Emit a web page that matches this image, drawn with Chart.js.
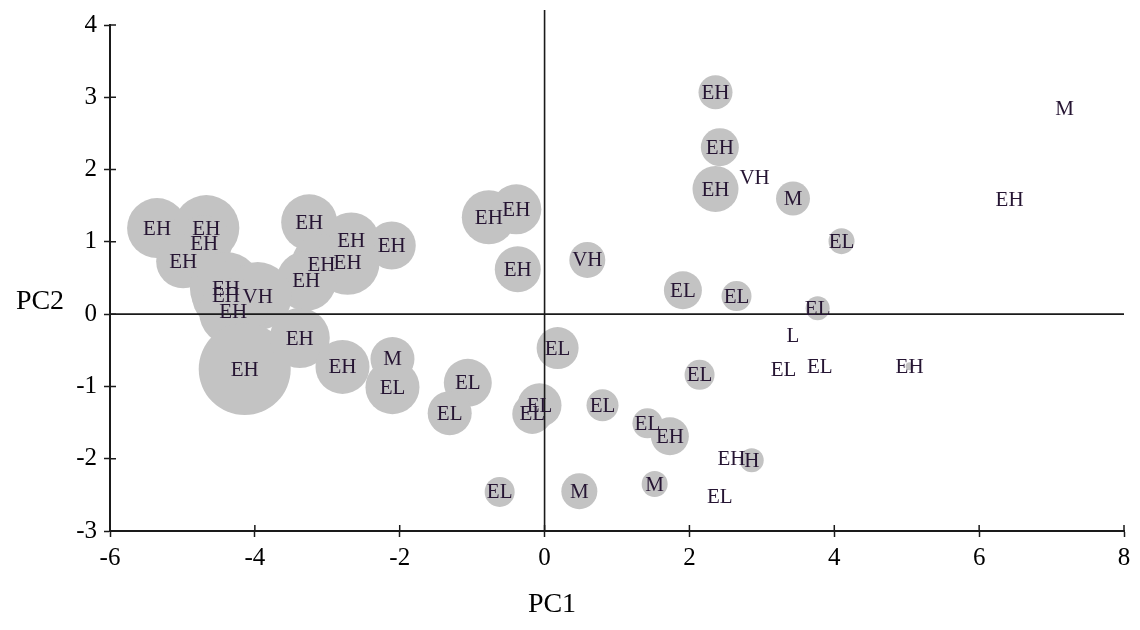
<!DOCTYPE html>
<html>
<head>
<meta charset="utf-8">
<script src="https://cdn.jsdelivr.net/npm/chart.js@4.4.1/dist/chart.umd.min.js"></script>
<style>
  body { margin: 0; background: #fff; }
  canvas { display: block; }
</style>
</head>
<body>
<canvas id="pca" width="1140" height="630"></canvas>
<script>
// sample groups and their scores on the first two components
const groups = ["EH","EH","EH","EH","EH","EH","EH","EH","EH","EH",
  "EH","EH","VH","EH","EH","EH","EH","M","EL","EL",
  "EL","EH","EH","EH","VH","EL","EL","EL","EL","M",
  "EL","EL","EH","M","EL","EL","EL","EL","EH","EH",
  "EH","VH","M","EL","EH","H","EL","L","EL","EL",
  "EH","EH","M"];
const pc1 = [-5.35,-4.67,-4.70,-4.99,-3.25,-2.67,-2.11,-3.08,-2.72,-3.29,
  -4.40,-4.40,-3.96,-4.30,-4.14,-3.38,-2.79,-2.10,-2.10,-1.06,
  -1.31,-0.77,-0.39,-0.37,0.59,0.18,-0.07,-0.17,-0.62,0.48,
  0.80,1.42,1.73,1.52,1.91,2.65,3.77,2.14,2.36,2.42,
  2.36,2.90,3.43,4.10,2.58,2.86,2.42,3.43,3.30,3.80,
  5.04,6.42,7.18];
const pc2 = [1.19,1.19,0.98,0.73,1.27,1.02,0.95,0.69,0.71,0.46,
  0.36,0.26,0.25,0.03,-0.76,-0.33,-0.73,-0.62,-1.01,-0.95,
  -1.37,1.34,1.45,0.62,0.75,-0.47,-1.26,-1.38,-2.46,-2.45,
  -1.26,-1.51,-1.69,-2.35,0.33,0.25,0.08,-0.84,3.07,2.31,
  1.73,1.89,1.60,1.01,-1.99,-2.02,-2.52,-0.30,-0.76,-0.72,
  -0.72,1.58,2.84];
// bubble size for each sample
const sizes = [30,33,28,27,28,28,24,30,32,30,
  36,34,34,34,46,30,27,22,27,24,
  22,27,25,23,18,21,22,20,15,18,
  16,15,19,13,19,15,12,15,17,19,
  23,0,17,13,0,12,0,0,0,0,
  4,0,0];
const xTicks = [-6, -4, -2, 0, 2, 4, 6, 8];
const yTicks = [-3, -2, -1, 0, 1, 2, 3, 4];

const serif = "'Liberation Serif', 'DejaVu Serif', serif";

const points = pc1.map((x, i) => ({ x: x, y: pc2[i], r: sizes[i] }));

const overlay = {
  id: 'overlay',
  afterDatasetsDraw(chart) {
    const { ctx, chartArea } = chart;
    const xs = chart.scales.x, ys = chart.scales.y;
    ctx.save();
    ctx.strokeStyle = '#1a1a1a';
    ctx.lineWidth = 1.6;
    // zero lines
    const x0 = xs.getPixelForValue(0), y0 = ys.getPixelForValue(0);
    ctx.beginPath();
    ctx.moveTo(x0, 10);
    ctx.lineTo(x0, chartArea.bottom);
    ctx.moveTo(chartArea.left, y0);
    ctx.lineTo(chartArea.right, y0);
    ctx.stroke();
    // inner half of tick marks
    ctx.lineWidth = 1.5;
    ctx.beginPath();
    xTicks.forEach(v => {
      const px = xs.getPixelForValue(v);
      ctx.moveTo(px, chartArea.bottom);
      ctx.lineTo(px, chartArea.bottom - 6);
    });
    yTicks.forEach(v => {
      const py = ys.getPixelForValue(v);
      ctx.moveTo(chartArea.left, py);
      ctx.lineTo(chartArea.left + 6, py);
    });
    ctx.stroke();
    // group labels on top of bubbles
    ctx.fillStyle = '#261533';
    ctx.font = '21px ' + serif;
    ctx.textAlign = 'center';
    ctx.textBaseline = 'middle';
    chart.getDatasetMeta(0).data.forEach((el, i) => {
      ctx.fillText(groups[i], el.x, el.y + 1);
    });
    // axis titles
    ctx.fillStyle = '#000';
    ctx.font = '28px ' + serif;
    ctx.fillText('PC2', 40, 302);
    ctx.fillText('PC1', 552, 605);
    ctx.restore();
  }
};

new Chart(document.getElementById('pca'), {
  type: 'bubble',
  data: {
    datasets: [{
      data: points,
      backgroundColor: '#c3c3c3',
      borderWidth: 0,
      hoverRadius: 0,
      clip: false
    }]
  },
  options: {
    responsive: false,
    devicePixelRatio: 1,
    animation: false,
    events: [],
    layout: { autoPadding: false, padding: { top: 25, right: 16, left: 0, bottom: 0 } },
    plugins: { legend: { display: false }, tooltip: { enabled: false } },
    scales: {
      x: {
        type: 'linear',
        min: -6, max: 8,
        afterFit: s => { s.height = 99; },
        afterBuildTicks: s => { s.ticks = xTicks.map(v => ({ value: v })); },
        grid: { drawOnChartArea: false, tickLength: 6, tickColor: '#1a1a1a', tickWidth: 1.5 },
        border: { display: true, color: '#1a1a1a', width: 2 },
        ticks: { color: '#000', padding: 6, maxRotation: 0, font: { family: serif, size: 25 } }
      },
      y: {
        type: 'linear',
        min: -3, max: 4,
        afterFit: s => { s.width = 110; },
        afterBuildTicks: s => { s.ticks = yTicks.map(v => ({ value: v })); },
        grid: { drawOnChartArea: false, tickLength: 6, tickColor: '#1a1a1a', tickWidth: 1.5 },
        border: { display: true, color: '#1a1a1a', width: 2 },
        ticks: { color: '#000', padding: 7, font: { family: serif, size: 25 } }
      }
    }
  },
  plugins: [overlay]
});
</script>
</body>
</html>
